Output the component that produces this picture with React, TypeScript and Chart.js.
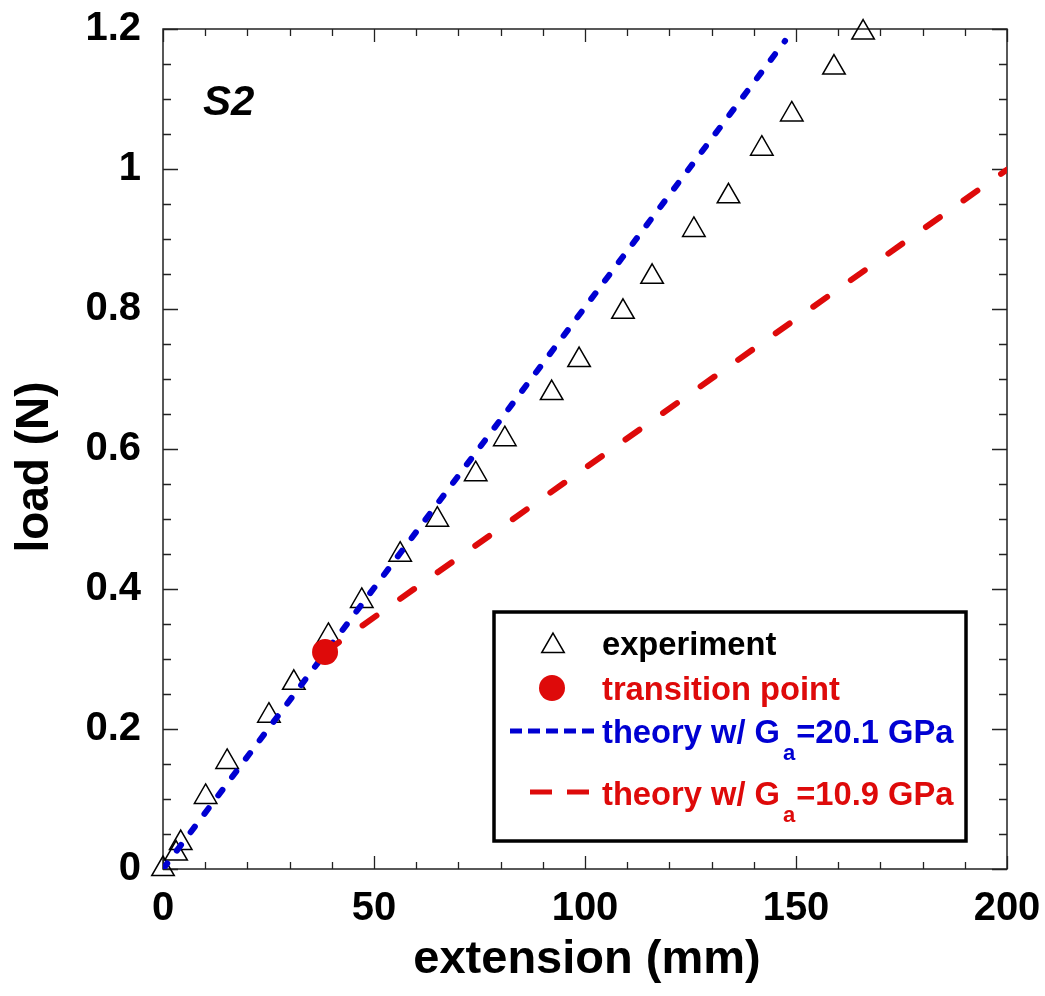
import React, { useEffect, useRef } from "react";
import { Chart, registerables } from "chart.js";

Chart.register(...registerables);

const expX = [0, 3.1, 4.2, 10.1, 15.2, 25.1, 31, 39.2, 47.1, 56.2, 65, 74.1, 81, 92.1, 98.6, 109, 115.9, 125.8, 134, 141.9, 149, 159, 165.9];
const expY = [0, 0.022, 0.037, 0.103, 0.153, 0.219, 0.266, 0.333, 0.383, 0.449, 0.499, 0.564, 0.614, 0.68, 0.727, 0.796, 0.846, 0.913, 0.961, 1.029, 1.078, 1.145, 1.195];
const transitionX = [38.4];
const transitionY = [0.31];
const blueX = [0, 147.4];
const blueY = [0, 1.183];
const redX = [38.4, 200];
const redY = [0.31, 0.999];

const xTicks = [0, 50, 100, 150, 200];
const yTicks = [0, 0.2, 0.4, 0.6, 0.8, 1, 1.2];

const legendLabels = ["experiment", "transition point", "theory w/ G", "theory w/ G"];
const legendSubs = ["", "", "a", "a"];
const legendTails = ["", "", "=20.1 GPa", "=10.9 GPa"];

const FONT = "'Liberation Sans', Arial, Helvetica, sans-serif";
const RED = "rgb(222,10,10)";
const BLUE = "rgb(0,0,210)";

const zip = (xs: number[], ys: number[]) => xs.map((x, i) => ({ x, y: ys[i] }));

const decorPlugin = {
  id: "decor",
  beforeDatasetsDraw(chart: any) {
    const { ctx, chartArea: a, scales } = chart;
    const xs = scales.x;
    const ys = scales.y;
    ctx.save();
    ctx.strokeStyle = "#222";
    ctx.lineWidth = 1.5;
    ctx.strokeRect(a.left, a.top, a.right - a.left, a.bottom - a.top);
    ctx.lineWidth = 1.3;
    ctx.beginPath();
    for (let v = 0; v <= 200; v += 10) {
      const px = Math.round(xs.getPixelForValue(v)) + 0.5;
      const len = v % 50 === 0 ? 13 : 7;
      ctx.moveTo(px, a.bottom);
      ctx.lineTo(px, a.bottom - len);
      ctx.moveTo(px, a.top);
      ctx.lineTo(px, a.top + len);
    }
    for (let k = 0; k <= 24; k++) {
      const v = k * 0.05;
      const py = Math.round(ys.getPixelForValue(v)) + 0.5;
      const len = k % 4 === 0 ? 15 : 8;
      ctx.moveTo(a.left, py);
      ctx.lineTo(a.left + len, py);
      ctx.moveTo(a.right, py);
      ctx.lineTo(a.right - len, py);
    }
    ctx.stroke();

    // S2 label
    ctx.fillStyle = "#000";
    ctx.font = `italic bold 42px ${FONT}`;
    ctx.textAlign = "left";
    ctx.textBaseline = "alphabetic";
    ctx.fillText("S2", 203, 115);

    // axis titles
    ctx.font = `bold 47px ${FONT}`;
    ctx.textAlign = "center";
    ctx.fillText("extension (mm)", 587, 973);
    ctx.save();
    ctx.translate(48, 467);
    ctx.rotate(-Math.PI / 2);
    ctx.font = `bold 46px ${FONT}`;
    ctx.fillText("load (N)", 0, 0);
    ctx.restore();
    ctx.restore();
  },
  afterDraw(chart: any) {
    const { ctx } = chart;
    ctx.save();
    // legend box
    ctx.strokeStyle = "#000";
    ctx.lineWidth = 3.5;
    ctx.strokeRect(494, 612, 472, 229);

    const textX = 602;
    const baselines = [655, 700, 743, 805];
    const colors = ["#000", RED, BLUE, RED];
    for (let i = 0; i < legendLabels.length; i++) {
      ctx.fillStyle = colors[i];
      ctx.font = `bold 32.7px ${FONT}`;
      ctx.textAlign = "left";
      ctx.textBaseline = "alphabetic";
      ctx.fillText(legendLabels[i], textX, baselines[i]);
      if (legendSubs[i]) {
        let x = textX + ctx.measureText(legendLabels[i]).width + 3;
        ctx.font = `bold 22px ${FONT}`;
        ctx.fillText(legendSubs[i], x, baselines[i] + 17);
        x += ctx.measureText(legendSubs[i]).width + 1;
        ctx.font = `bold 32.7px ${FONT}`;
        ctx.fillText(legendTails[i], x, baselines[i]);
      }
    }
    // symbols
    const r = 13;
    const tx = 553, ty = 646;
    ctx.strokeStyle = "#000";
    ctx.lineWidth = 1.5;
    ctx.beginPath();
    ctx.moveTo(tx, ty - r);
    ctx.lineTo(tx + r * Math.sin(Math.PI / 3), ty + r / 2);
    ctx.lineTo(tx - r * Math.sin(Math.PI / 3), ty + r / 2);
    ctx.closePath();
    ctx.stroke();
    ctx.fillStyle = RED;
    ctx.beginPath();
    ctx.arc(552, 688, 13, 0, Math.PI * 2);
    ctx.fill();
    ctx.strokeStyle = BLUE;
    ctx.lineWidth = 5;
    ctx.setLineDash([12, 6]);
    ctx.beginPath();
    ctx.moveTo(510, 731);
    ctx.lineTo(596, 731);
    ctx.stroke();
    ctx.strokeStyle = RED;
    ctx.setLineDash([22, 15]);
    ctx.beginPath();
    ctx.moveTo(530, 792);
    ctx.lineTo(590, 792);
    ctx.stroke();
    ctx.restore();
  },
};

const zeroPad = (s: any) => {
  s.paddingTop = 0;
  s.paddingBottom = 0;
  s.paddingLeft = 0;
  s.paddingRight = 0;
};

export default function App() {
  const ref = useRef<HTMLCanvasElement>(null);
  useEffect(() => {
    document.body.style.margin = "0";
    const chart = new Chart(ref.current as HTMLCanvasElement, {
      type: "scatter",
      data: {
        datasets: [
          {
            label: "transition point",
            data: zip(transitionX, transitionY),
            pointStyle: "circle",
            pointRadius: 13,
            backgroundColor: RED,
            borderWidth: 0,
            order: 0,
            clip: false,
          } as any,
          {
            type: "line",
            label: "theory w/ Ga=10.9 GPa",
            data: zip(redX, redY),
            borderColor: RED,
            borderWidth: 6,
            borderDash: [17, 29],
            borderCapStyle: "round",
            pointRadius: 0,
            fill: false,
            order: 1,
          } as any,
          {
            type: "line",
            label: "theory w/ Ga=20.1 GPa",
            data: zip(blueX, blueY),
            borderColor: BLUE,
            borderWidth: 6,
            borderDash: [7, 16],
            borderCapStyle: "round",
            pointRadius: 0,
            fill: false,
            order: 2,
          } as any,
          {
            label: "experiment",
            data: zip(expX, expY),
            pointStyle: "triangle",
            pointRadius: 13,
            borderColor: "#000",
            borderWidth: 1.5,
            backgroundColor: "rgba(0,0,0,0)",
            order: 3,
            clip: false,
          } as any,
        ],
      },
      options: {
        animation: false,
        responsive: false,
        devicePixelRatio: 1,
        layout: { padding: { left: 0, top: 29, right: 38, bottom: 0 } },
        plugins: { legend: { display: false }, tooltip: { enabled: false } },
        scales: {
          x: {
            type: "linear",
            min: 0,
            max: 200,
            afterFit: (s: any) => {
              s.height = 127;
              zeroPad(s);
            },
            afterBuildTicks: (s: any) => {
              s.ticks = xTicks.map((v) => ({ value: v }));
            },
            grid: { display: false, drawTicks: false },
            border: { display: false },
            ticks: {
              padding: 16,
              color: "#000",
              font: { family: FONT, size: 40, weight: "bold" },
              maxRotation: 0,
            },
          },
          y: {
            type: "linear",
            min: 0,
            max: 1.2,
            afterFit: (s: any) => {
              s.width = 163;
              zeroPad(s);
            },
            afterBuildTicks: (s: any) => {
              s.ticks = yTicks.map((v) => ({ value: v }));
            },
            grid: { display: false, drawTicks: false },
            border: { display: false },
            ticks: {
              padding: 22,
              color: "#000",
              font: { family: FONT, size: 40, weight: "bold" },
              callback: (v: any) => String(Math.round(Number(v) * 10) / 10),
            },
          },
        },
      } as any,
      plugins: [decorPlugin],
    });
    return () => chart.destroy();
  }, []);
  return (
    <div style={{ position: "absolute", left: 0, top: 0, width: 1045, height: 996 }}>
      <canvas ref={ref} width={1045} height={996} style={{ width: 1045, height: 996 }} />
    </div>
  );
}
